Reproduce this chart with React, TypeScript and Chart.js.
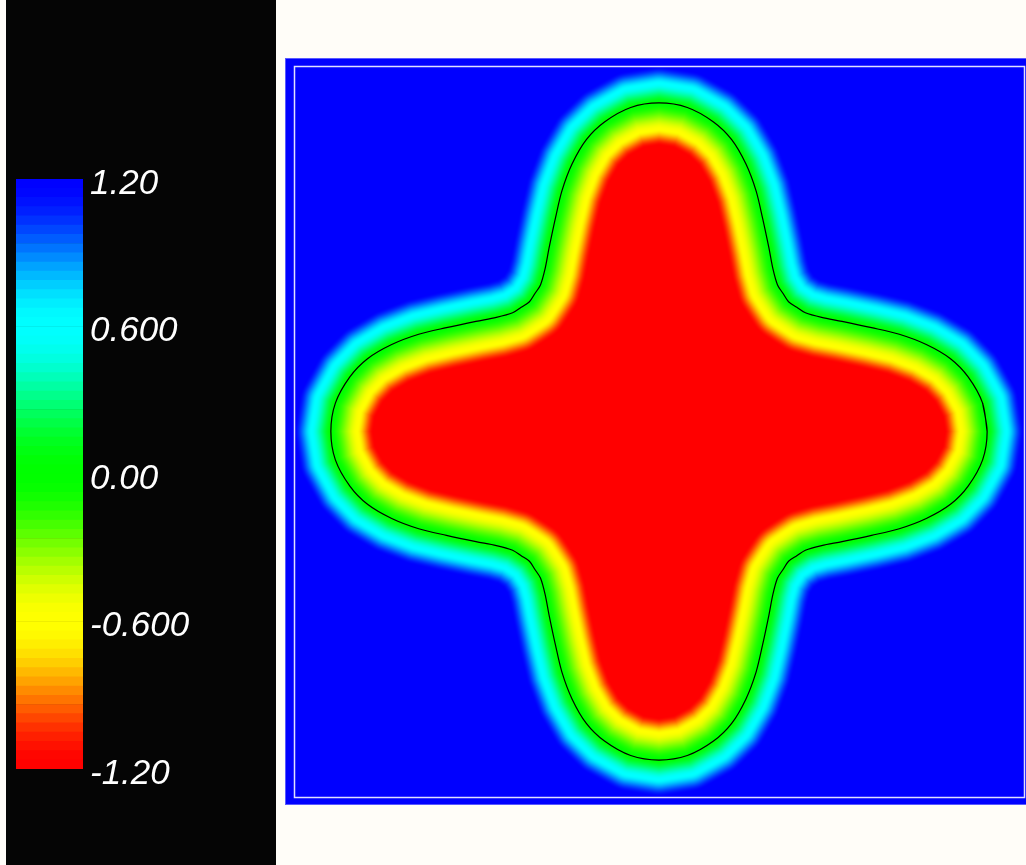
import React, { useEffect, useRef } from "react";
import { Chart, registerables } from "chart.js";

Chart.register(...registerables);

// ---- colour bar ----
const valueMin = -1.2;
const valueMax = 1.2;
const colorbarTickValues = [1.2, 0.6, 0, -0.6, -1.2];
const colorbarTickLabels = ["1.20", "0.600", "0.00", "-0.600", "-1.20"];
const colorbarBandCount = 64;

// ---- zero-level contour, one octant (angle in degrees from +x, radius in domain units) ----
// the shape has four-fold mirror symmetry; the rest is obtained by reflection
const contourAngleDeg = [90, 95, 100, 104, 108, 112, 116, 121, 125, 129, 132, 135];
const contourRadius = [0.899, 0.89, 0.86, 0.823, 0.77, 0.71, 0.648, 0.585, 0.544, 0.516, 0.508, 0.502];

// ---- field value across the interface (signed distance, positive outside) ----
const profileDistance = [-0.115, -0.071, 0, 0.053, 0.1];
const profileValue = [-1.2, -0.6, 0, 0.6, 1.2];

// palette: red -> yellow -> green -> cyan -> blue
const paletteStops: number[][] = [
  [255, 0, 0],
  [255, 255, 0],
  [0, 255, 0],
  [0, 255, 255],
  [0, 0, 255],
];

function colorFor(val: number): number[] {
  let t = (val - valueMin) / (valueMax - valueMin);
  if (t < 0) t = 0;
  if (t > 1) t = 1;
  const n = paletteStops.length - 1;
  let seg = Math.floor(t * n);
  if (seg >= n) seg = n - 1;
  const f = t * n - seg;
  const s = f * f * (3 - 2 * f);
  const a = paletteStops[seg];
  const b = paletteStops[seg + 1];
  return [a[0] + (b[0] - a[0]) * s, a[1] + (b[1] - a[1]) * s, a[2] + (b[2] - a[2]) * s];
}

function rgb(c: number[]) {
  return `rgb(${Math.round(c[0])},${Math.round(c[1])},${Math.round(c[2])})`;
}

function profileAt(d: number): number {
  const n = profileDistance.length;
  if (d <= profileDistance[0]) return profileValue[0];
  if (d >= profileDistance[n - 1]) return profileValue[n - 1];
  for (let i = 0; i < n - 1; i++) {
    const a = profileDistance[i];
    const b = profileDistance[i + 1];
    if (d <= b) {
      const f = (d - a) / (b - a);
      return profileValue[i] + (profileValue[i + 1] - profileValue[i]) * f;
    }
  }
  return profileValue[n - 1];
}

function buildContour(): { x: number; y: number }[] {
  const raw: { a: number; r: number }[] = [];
  for (let k = 0; k < 4; k++) {
    for (let i = 0; i < contourAngleDeg.length; i++) {
      raw.push({ a: contourAngleDeg[i] + 90 * k, r: contourRadius[i] });
      raw.push({ a: 270 - contourAngleDeg[i] + 90 * k, r: contourRadius[i] });
    }
  }
  raw.forEach((p) => {
    p.a = ((p.a % 360) + 360) % 360;
  });
  raw.sort((p, q) => p.a - q.a);
  const out: { a: number; r: number }[] = [];
  raw.forEach((p) => {
    if (!out.length || Math.abs(out[out.length - 1].a - p.a) > 1e-6) out.push(p);
  });
  if (out.length > 1 && Math.abs(out[out.length - 1].a - 360 - out[0].a) < 1e-6) out.pop();
  return out.map((p) => ({
    x: p.r * Math.cos((p.a * Math.PI) / 180),
    y: p.r * Math.sin((p.a * Math.PI) / 180),
  }));
}

function makeFieldPlugin(contour: { x: number; y: number }[]) {
  let cache: HTMLCanvasElement | null = null;
  const rMax = Math.max(...contourRadius) + profileDistance[profileDistance.length - 1] + 0.01;
  const rMin = Math.min(...contourRadius) + profileDistance[0] - 0.01;
  const compute = (chart: any) => {
    const W = Math.round(chart.width);
    const H = Math.round(chart.height);
    const xs = chart.scales.x;
    const ys = chart.scales.y;
    const u0 = xs.getValueForPixel(0);
    const du = xs.getValueForPixel(1) - u0;
    const v0 = ys.getValueForPixel(0);
    const dv = ys.getValueForPixel(1) - v0;
    const n = contour.length;
    const px = contour.map((p) => p.x);
    const py = contour.map((p) => p.y);
    const img = new ImageData(W, H);
    const data = img.data;
    const rMax2 = rMax * rMax;
    const rMin2 = rMin * rMin;
    for (let j = 0; j < H; j++) {
      const v = v0 + (j + 0.5) * dv;
      for (let i = 0; i < W; i++) {
        const u = u0 + (i + 0.5) * du;
        const r2 = u * u + v * v;
        let val: number;
        if (r2 > rMax2) val = valueMax;
        else if (r2 < rMin2) val = valueMin;
        else {
          let minD2 = Infinity;
          let inside = false;
          for (let k = 0; k < n; k++) {
            const k2 = k + 1 === n ? 0 : k + 1;
            const ax = px[k], ay = py[k], bx = px[k2], by = py[k2];
            if (ay > v !== by > v && u < ((bx - ax) * (v - ay)) / (by - ay) + ax) inside = !inside;
            const ex = bx - ax, ey = by - ay;
            let t = ((u - ax) * ex + (v - ay) * ey) / (ex * ex + ey * ey);
            if (t < 0) t = 0;
            else if (t > 1) t = 1;
            const dx = ax + t * ex - u;
            const dy = ay + t * ey - v;
            const d2 = dx * dx + dy * dy;
            if (d2 < minD2) minD2 = d2;
          }
          const d = Math.sqrt(minD2) * (inside ? -1 : 1);
          val = profileAt(d);
        }
        const c = colorFor(val);
        const o = (j * W + i) * 4;
        data[o] = c[0];
        data[o + 1] = c[1];
        data[o + 2] = c[2];
        data[o + 3] = 255;
      }
    }
    const off = document.createElement("canvas");
    off.width = W;
    off.height = H;
    (off.getContext("2d") as CanvasRenderingContext2D).putImageData(img, 0, 0);
    return off;
  };
  return {
    id: "fieldImage",
    beforeDatasetsDraw(chart: any) {
      if (!cache) cache = compute(chart);
      const ctx = chart.ctx as CanvasRenderingContext2D;
      const ca = chart.chartArea;
      ctx.save();
      ctx.imageSmoothingEnabled = true;
      ctx.drawImage(cache, 0, 0, chart.width, chart.height);
      // outer rim
      ctx.strokeStyle = "rgba(255,255,255,0.35)";
      ctx.lineWidth = 1;
      ctx.strokeRect(0.5, 0.5, chart.width - 1, chart.height - 1);
      // domain outline
      ctx.strokeStyle = "rgba(235,235,255,0.95)";
      ctx.lineWidth = 1.5;
      ctx.strokeRect(ca.left + 0.5, ca.top + 0.5, ca.right - ca.left, ca.bottom - ca.top);
      ctx.restore();
    },
  };
}

function ColorBar() {
  const ref = useRef<HTMLCanvasElement>(null);
  useEffect(() => {
    if (!ref.current) return;
    const step = (valueMax - valueMin) / colorbarBandCount;
    const datasets = [];
    for (let i = 0; i < colorbarBandCount; i++) {
      const lo = valueMin + i * step;
      const hi = lo + step;
      datasets.push({
        data: [[lo, hi]],
        backgroundColor: rgb(colorFor((lo + hi) / 2)),
        borderWidth: 0,
        grouped: false,
        barPercentage: 1,
        categoryPercentage: 1,
      });
    }
    const chart = new Chart(ref.current, {
      type: "bar",
      data: { labels: [""], datasets: datasets as any },
      options: {
        responsive: false,
        animation: false,
        events: [],
        layout: { padding: { left: 10, top: 179, bottom: 96, right: 0 } },
        plugins: { legend: { display: false }, tooltip: { enabled: false } },
        scales: {
          x: { display: false },
          y: {
            position: "right",
            min: valueMin,
            max: valueMax,
            grid: { display: false, drawTicks: false },
            border: { display: false },
            afterFit: (s: any) => {
              s.width = 193;
            },
            afterBuildTicks: (s: any) => {
              s.ticks = colorbarTickValues.map((v) => ({ value: v }));
            },
            ticks: {
              color: "#ffffff",
              padding: 7,
              labelOffset: 5,
              font: { family: '"Liberation Sans", Arial, sans-serif', size: 35, style: "italic" },
              callback: (v: any) => {
                const idx = colorbarTickValues.findIndex((t) => Math.abs(t - Number(v)) < 1e-9);
                return idx >= 0 ? colorbarTickLabels[idx] : "";
              },
            },
          },
        },
      } as any,
    });
    return () => chart.destroy();
  }, []);
  return <canvas ref={ref} width={270} height={865} style={{ display: "block" }} />;
}

function FieldPlot() {
  const ref = useRef<HTMLCanvasElement>(null);
  useEffect(() => {
    if (!ref.current) return;
    const contour = buildContour();
    const chart = new Chart(ref.current, {
      type: "scatter",
      data: {
        datasets: [
          {
            data: [...contour, contour[0], contour[1]],
            showLine: true,
            borderColor: "#000000",
            borderWidth: 1.2,
            pointRadius: 0,
            fill: false,
            tension: 0.3,
          },
        ],
      },
      options: {
        responsive: false,
        animation: false,
        events: [],
        layout: { padding: { left: 9, top: 8, right: 8, bottom: 8 } },
        plugins: { legend: { display: false }, tooltip: { enabled: false } },
        scales: {
          x: { type: "linear", min: -1, max: 1, display: false },
          y: { type: "linear", min: -1, max: 1, display: false },
        },
      } as any,
      plugins: [makeFieldPlugin(contour)],
    });
    return () => chart.destroy();
  }, []);
  return <canvas ref={ref} width={747} height={747} style={{ display: "block" }} />;
}

export default function App() {
  return (
    <div
      style={{
        position: "absolute",
        left: 0,
        top: 0,
        width: 1026,
        height: 865,
        overflow: "hidden",
        background: "#fffdf8",
      }}
    >
      <div style={{ position: "absolute", left: 6, top: 0, width: 270, height: 865, background: "#050505" }}>
        <ColorBar />
      </div>
      <div style={{ position: "absolute", left: 285, top: 58, width: 747, height: 747 }}>
        <FieldPlot />
      </div>
    </div>
  );
}
